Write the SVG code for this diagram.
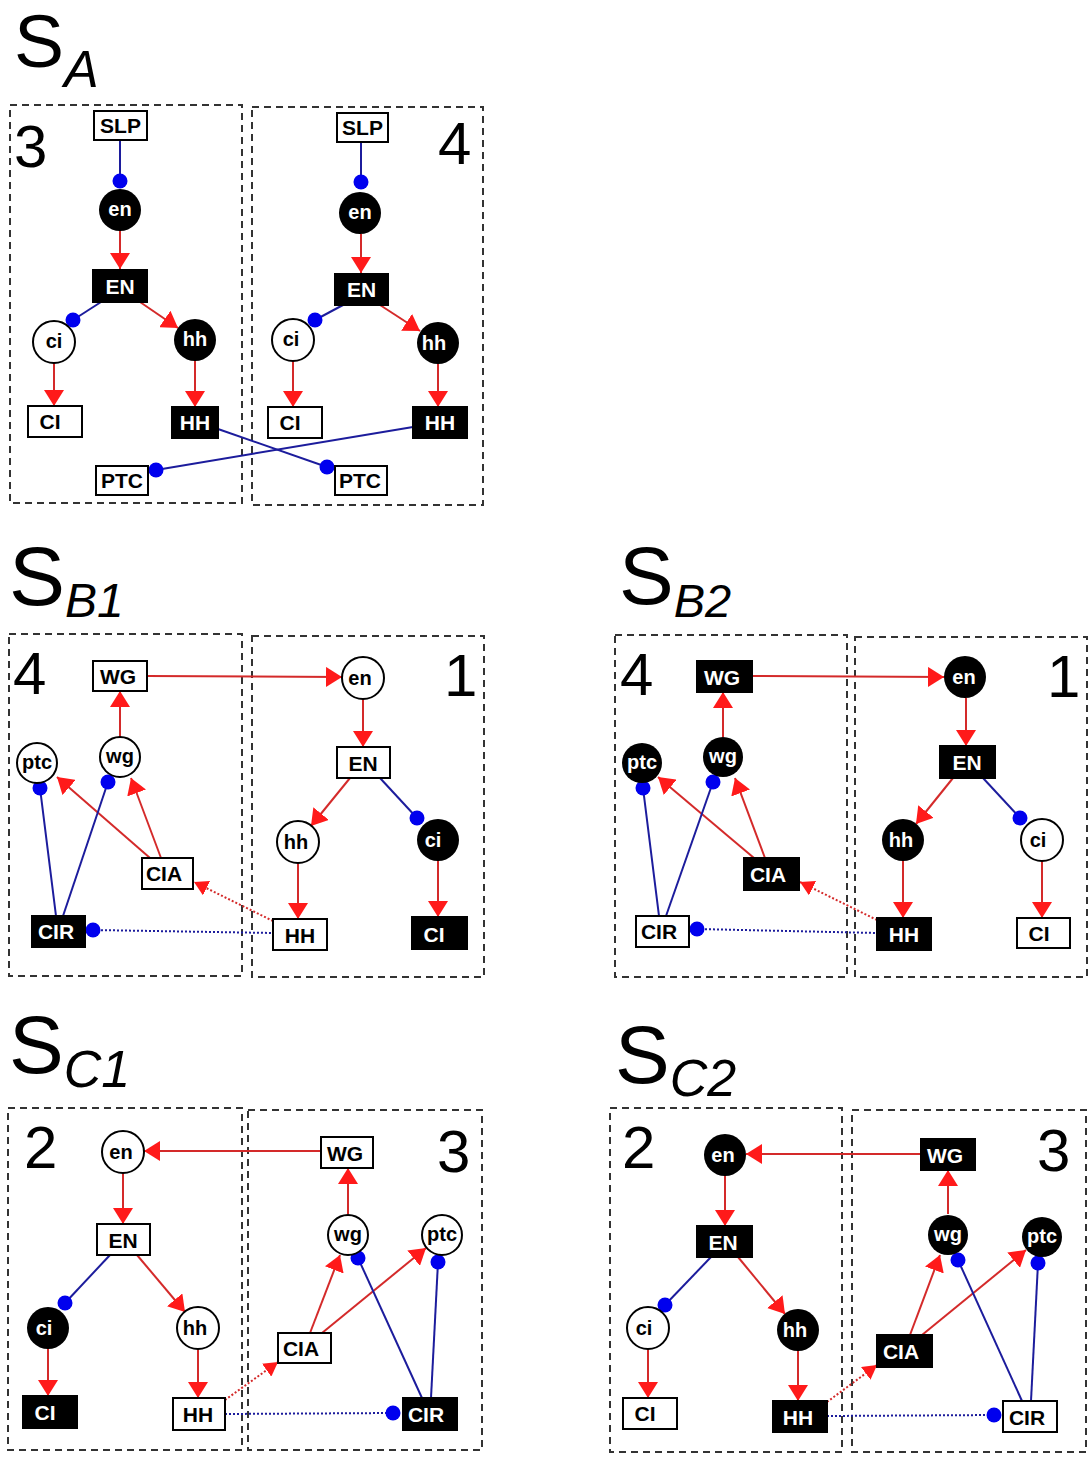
<svg xmlns="http://www.w3.org/2000/svg" width="1091" height="1458" viewBox="0 0 1091 1458">
<defs>
<marker id="ah" markerUnits="userSpaceOnUse" markerWidth="18" markerHeight="20" refX="16" refY="10" orient="auto">
<path d="M0,0 L16,10 L0,20 z" fill="#ff1a1a"/>
</marker>
<marker id="ahs" markerUnits="userSpaceOnUse" markerWidth="16" markerHeight="16" refX="14" refY="8" orient="auto">
<path d="M0,0 L14,8 L0,16 z" fill="#ff1a1a"/>
</marker>
</defs>
<style>
.frame{fill:none;stroke:#333;stroke-width:2;stroke-dasharray:7 5}
.bw{fill:#fff;stroke:#000;stroke-width:2}
.bb{fill:#000;stroke:#000;stroke-width:2}
.cw{fill:#fff;stroke:#000;stroke-width:2}
.cb{fill:#000}
.t{font-family:"Liberation Sans",Arial,sans-serif;font-weight:bold;font-size:21px;text-anchor:middle;fill:#000}
.c{font-size:20px}
.w{fill:#fff}
.num{font-family:"Liberation Sans",Arial,sans-serif;font-size:60px;fill:#000}
.ttl{font-family:"Liberation Sans",Arial,sans-serif;fill:#000}
.act{stroke:#d42a2a;stroke-width:2;fill:none;marker-end:url(#ah)}
.actd{stroke:#d42a2a;stroke-width:2;fill:none;stroke-dasharray:2 2;marker-end:url(#ahs)}
.inh{stroke:#1c1c9c;stroke-width:2;fill:none}
.inhd{stroke:#1c1c9c;stroke-width:2;fill:none;stroke-dasharray:2 2}
.dot{fill:#0000ee}
</style>
<rect width="1091" height="1458" fill="#fff"/>

<!-- titles -->
<g id="titles">
<text class="ttl" x="14" y="67" font-size="75">S<tspan font-size="52" font-style="italic" dy="20">A</tspan></text>
<text class="ttl" x="9" y="605" font-size="84">S<tspan font-size="48" font-style="italic" dy="12">B1</tspan></text>
<text class="ttl" x="619" y="604" font-size="82">S<tspan font-size="47" font-style="italic" dy="13">B2</tspan></text>
<text class="ttl" x="9" y="1073" font-size="82">S<tspan font-size="52" font-style="italic" dy="14">C1</tspan></text>
<text class="ttl" x="615" y="1083" font-size="82">S<tspan font-size="52" font-style="italic" dy="13">C2</tspan></text>
</g>

<!-- frames -->
<g id="frames">
<rect class="frame" x="10" y="105" width="232" height="398"/>
<rect class="frame" x="252" y="107" width="231" height="398"/>
<rect class="frame" x="9" y="634" width="233" height="342"/>
<rect class="frame" x="252" y="636" width="232" height="341"/>
<rect class="frame" x="615" y="635" width="232" height="342"/>
<rect class="frame" x="855" y="637" width="232" height="340"/>
<rect class="frame" x="8" y="1108" width="234" height="342"/>
<rect class="frame" x="248" y="1110" width="234" height="340"/>
<rect class="frame" x="610" y="1108" width="232" height="344"/>
<rect class="frame" x="852" y="1110" width="234" height="342"/>
</g>

<!-- panel numbers -->
<g id="numbers">
<text class="num" x="14" y="167">3</text>
<text class="num" x="438" y="164">4</text>
<text class="num" x="13" y="694">4</text>
<text class="num" x="444" y="696">1</text>
<text class="num" x="620" y="695">4</text>
<text class="num" x="1047" y="697">1</text>
<text class="num" x="24" y="1168">2</text>
<text class="num" x="437" y="1172">3</text>
<text class="num" x="622" y="1168">2</text>
<text class="num" x="1037" y="1171">3</text>
</g>

<!-- connectors -->
<g id="connectors">
<!-- SA 3 -->
<line class="inh" x1="120" y1="140" x2="120" y2="181"/>
<circle class="dot" cx="120" cy="181" r="7.5"/>
<line class="act" x1="120" y1="231" x2="120" y2="269"/>
<line class="inh" x1="101" y1="302" x2="73" y2="320"/>
<circle class="dot" cx="73" cy="320" r="7.5"/>
<line class="act" x1="140" y1="302" x2="178" y2="328"/>
<line class="act" x1="54" y1="363" x2="54" y2="406"/>
<line class="act" x1="195" y1="361" x2="195" y2="407"/>
<line class="inh" x1="413" y1="427" x2="156" y2="470"/>
<circle class="dot" cx="156" cy="470" r="7.5"/>
<line class="inh" x1="218" y1="429" x2="327" y2="467"/>
<circle class="dot" cx="327" cy="467" r="7.5"/>
<!-- SA 4 -->
<line class="inh" x1="361" y1="142" x2="361" y2="182"/>
<circle class="dot" cx="361" cy="182" r="7.5"/>
<line class="act" x1="361" y1="234" x2="361" y2="273"/>
<line class="inh" x1="343" y1="305" x2="315" y2="320"/>
<circle class="dot" cx="315" cy="320" r="7.5"/>
<line class="act" x1="380" y1="305" x2="420" y2="331"/>
<line class="act" x1="293" y1="361" x2="293" y2="407"/>
<line class="act" x1="438" y1="364" x2="438" y2="407"/>
<!-- SB1 -->
<line class="act" x1="120" y1="737" x2="120" y2="691"/>
<line class="act" x1="150" y1="858" x2="57" y2="777"/>
<line class="act" x1="161" y1="858" x2="131" y2="778"/>
<line class="inh" x1="56" y1="916" x2="40" y2="788"/>
<circle class="dot" cx="40" cy="788" r="7.5"/>
<line class="inh" x1="63" y1="916" x2="108" y2="782"/>
<circle class="dot" cx="108" cy="782" r="7.5"/>
<line class="inhd" x1="93" y1="930" x2="273" y2="933"/>
<circle class="dot" cx="93" cy="930" r="7.5"/>
<line class="actd" x1="273" y1="921" x2="194" y2="882"/>
<line class="act" x1="147" y1="676" x2="342" y2="677"/>
<line class="act" x1="363" y1="699" x2="363" y2="747"/>
<line class="act" x1="350" y1="778" x2="311" y2="826"/>
<line class="inh" x1="380" y1="778" x2="417" y2="818"/>
<circle class="dot" cx="417" cy="818" r="7.5"/>
<line class="act" x1="298" y1="863" x2="298" y2="919"/>
<line class="act" x1="438" y1="861" x2="438" y2="917"/>
<!-- SB2 -->
<line class="act" x1="723" y1="737" x2="723" y2="692"/>
<line class="act" x1="754" y1="858" x2="658" y2="777"/>
<line class="act" x1="765" y1="858" x2="735" y2="778"/>
<line class="inh" x1="659" y1="916" x2="643" y2="788"/>
<circle class="dot" cx="643" cy="788" r="7.5"/>
<line class="inh" x1="666" y1="916" x2="713" y2="782"/>
<circle class="dot" cx="713" cy="782" r="7.5"/>
<line class="inhd" x1="697" y1="929" x2="877" y2="933"/>
<circle class="dot" cx="697" cy="929" r="7.5"/>
<line class="actd" x1="877" y1="920" x2="800" y2="882"/>
<line class="act" x1="752" y1="676" x2="944" y2="677"/>
<line class="act" x1="966" y1="698" x2="966" y2="746"/>
<line class="act" x1="953" y1="778" x2="916" y2="824"/>
<line class="inh" x1="983" y1="778" x2="1020" y2="818"/>
<circle class="dot" cx="1020" cy="818" r="7.5"/>
<line class="act" x1="903" y1="861" x2="903" y2="918"/>
<line class="act" x1="1042" y1="861" x2="1042" y2="918"/>
<!-- SC1 -->
<line class="act" x1="321" y1="1151" x2="144" y2="1151"/>
<line class="act" x1="123" y1="1173" x2="123" y2="1224"/>
<line class="inh" x1="110" y1="1255" x2="65" y2="1303"/>
<circle class="dot" cx="65" cy="1303" r="7.5"/>
<line class="act" x1="137" y1="1255" x2="185" y2="1312"/>
<line class="act" x1="48" y1="1349" x2="48" y2="1396"/>
<line class="act" x1="198" y1="1349" x2="198" y2="1398"/>
<line class="act" x1="348" y1="1214" x2="348" y2="1168"/>
<line class="act" x1="310" y1="1333" x2="340" y2="1255"/>
<line class="act" x1="322" y1="1333" x2="426" y2="1248"/>
<line class="inh" x1="422" y1="1398" x2="358" y2="1258"/>
<circle class="dot" cx="358" cy="1258" r="7.5"/>
<line class="inh" x1="431" y1="1398" x2="438" y2="1262"/>
<circle class="dot" cx="438" cy="1262" r="7.5"/>
<line class="inhd" x1="225" y1="1414" x2="393" y2="1413"/>
<circle class="dot" cx="393" cy="1413" r="7.5"/>
<line class="actd" x1="225" y1="1400" x2="278" y2="1362"/>
<!-- SC2 -->
<line class="act" x1="921" y1="1154" x2="746" y2="1154"/>
<line class="act" x1="725" y1="1176" x2="725" y2="1226"/>
<line class="inh" x1="711" y1="1257" x2="665" y2="1305"/>
<circle class="dot" cx="665" cy="1305" r="7.5"/>
<line class="act" x1="738" y1="1257" x2="785" y2="1314"/>
<line class="act" x1="648" y1="1349" x2="648" y2="1398"/>
<line class="act" x1="798" y1="1351" x2="798" y2="1401"/>
<line class="act" x1="948" y1="1214" x2="948" y2="1170"/>
<line class="act" x1="910" y1="1335" x2="940" y2="1255"/>
<line class="act" x1="922" y1="1335" x2="1026" y2="1250"/>
<line class="inh" x1="1022" y1="1401" x2="958" y2="1260"/>
<circle class="dot" cx="958" cy="1260" r="7.5"/>
<line class="inh" x1="1031" y1="1401" x2="1038" y2="1263"/>
<circle class="dot" cx="1038" cy="1263" r="7.5"/>
<line class="inhd" x1="827" y1="1416" x2="994" y2="1415"/>
<circle class="dot" cx="994" cy="1415" r="7.5"/>
<line class="actd" x1="827" y1="1402" x2="877" y2="1365"/>
</g>

<!-- SA panel 3 nodes -->
<g id="sa3-SLP"><rect class="bw" x="94" y="111" width="53" height="29"/><text class="t" x="120.5" y="133">SLP</text></g>
<g id="sa3-en"><circle class="cb" cx="120" cy="210" r="21"/><text class="t c w" x="120" y="216">en</text></g>
<g id="sa3-EN"><rect class="bb" x="93" y="270" width="54" height="32"/><text class="t w" x="120" y="294">EN</text></g>
<g id="sa3-ci"><circle class="cw" cx="54" cy="342" r="21"/><text class="t c" x="54" y="348">ci</text></g>
<g id="sa3-hh"><circle class="cb" cx="195" cy="340" r="21"/><text class="t c w" x="195" y="346">hh</text></g>
<g id="sa3-CI"><rect class="bw" x="28" y="406" width="54" height="31"/><text class="t" x="50" y="429">CI</text></g>
<g id="sa3-HH"><rect class="bb" x="172" y="407" width="46" height="31"/><text class="t w" x="195" y="430">HH</text></g>
<g id="sa3-PTC"><rect class="bw" x="96" y="466" width="52" height="29"/><text class="t" x="122" y="488">PTC</text></g>

<!-- SA panel 4 nodes -->
<g id="sa4-SLP"><rect class="bw" x="337" y="113" width="51" height="29"/><text class="t" x="362.5" y="135">SLP</text></g>
<g id="sa4-en"><circle class="cb" cx="360" cy="213" r="21"/><text class="t c w" x="360" y="219">en</text></g>
<g id="sa4-EN"><rect class="bb" x="335" y="274" width="53" height="31"/><text class="t w" x="361.5" y="297">EN</text></g>
<g id="sa4-ci"><circle class="cw" cx="293" cy="340" r="21"/><text class="t c" x="291" y="346">ci</text></g>
<g id="sa4-hh"><circle class="cb" cx="438" cy="343" r="21"/><text class="t c w" x="434" y="350">hh</text></g>
<g id="sa4-CI"><rect class="bw" x="268" y="407" width="54" height="31"/><text class="t" x="290" y="430">CI</text></g>
<g id="sa4-HH"><rect class="bb" x="413" y="407" width="54" height="31"/><text class="t w" x="440" y="430">HH</text></g>
<g id="sa4-PTC"><rect class="bw" x="335" y="466" width="52" height="29"/><text class="t" x="360" y="488">PTC</text></g>

<!-- SB1 nodes -->
<g id="sb1-WG"><rect class="bw" x="93" y="661" width="54" height="30"/><text class="t" x="118" y="684">WG</text></g>
<g id="sb1-wg"><circle class="cw" cx="120" cy="757" r="20"/><text class="t c" x="120" y="763">wg</text></g>
<g id="sb1-ptc"><circle class="cw" cx="37" cy="763" r="20"/><text class="t c" x="37" y="769">ptc</text></g>
<g id="sb1-CIA"><rect class="bw" x="142" y="858" width="51" height="31"/><text class="t" x="164" y="881">CIA</text></g>
<g id="sb1-CIR"><rect class="bb" x="32" y="916" width="53" height="31"/><text class="t w" x="56" y="939">CIR</text></g>
<g id="sb1-en"><circle class="cw" cx="363" cy="678" r="21"/><text class="t c" x="360" y="685">en</text></g>
<g id="sb1-EN"><rect class="bw" x="337" y="747" width="53" height="31"/><text class="t" x="363" y="771">EN</text></g>
<g id="sb1-hh"><circle class="cw" cx="298" cy="842" r="21"/><text class="t c" x="296" y="849">hh</text></g>
<g id="sb1-ci"><circle class="cb" cx="438" cy="840" r="21"/><text class="t c w" x="433" y="847">ci</text></g>
<g id="sb1-HH"><rect class="bw" x="273" y="919" width="54" height="31"/><text class="t" x="300" y="943">HH</text></g>
<g id="sb1-CI"><rect class="bb" x="412" y="917" width="55" height="32"/><text class="t w" x="434" y="942">CI</text></g>

<!-- SB2 nodes -->
<g id="sb2-WG"><rect class="bb" x="697" y="661" width="55" height="31"/><text class="t w" x="722" y="685">WG</text></g>
<g id="sb2-wg"><circle class="cb" cx="723" cy="757" r="20"/><text class="t c w" x="723" y="763">wg</text></g>
<g id="sb2-ptc"><circle class="cb" cx="642" cy="763" r="20"/><text class="t c w" x="642" y="769">ptc</text></g>
<g id="sb2-CIA"><rect class="bb" x="744" y="858" width="55" height="32"/><text class="t w" x="768" y="882">CIA</text></g>
<g id="sb2-CIR"><rect class="bw" x="636" y="916" width="53" height="31"/><text class="t" x="659" y="939">CIR</text></g>
<g id="sb2-en"><circle class="cb" cx="965" cy="677" r="21"/><text class="t c w" x="964" y="684">en</text></g>
<g id="sb2-EN"><rect class="bb" x="940" y="746" width="55" height="32"/><text class="t w" x="967" y="770">EN</text></g>
<g id="sb2-hh"><circle class="cb" cx="903" cy="840" r="21"/><text class="t c w" x="901" y="847">hh</text></g>
<g id="sb2-ci"><circle class="cw" cx="1042" cy="840" r="21"/><text class="t c" x="1038" y="847">ci</text></g>
<g id="sb2-HH"><rect class="bb" x="877" y="918" width="54" height="32"/><text class="t w" x="904" y="942">HH</text></g>
<g id="sb2-CI"><rect class="bw" x="1017" y="918" width="53" height="30"/><text class="t" x="1039" y="941">CI</text></g>

<!-- SC1 nodes -->
<g id="sc1-en"><circle class="cw" cx="123" cy="1152" r="21"/><text class="t c" x="121" y="1159">en</text></g>
<g id="sc1-EN"><rect class="bw" x="97" y="1224" width="53" height="31"/><text class="t" x="123" y="1248">EN</text></g>
<g id="sc1-ci"><circle class="cb" cx="48" cy="1328" r="21"/><text class="t c w" x="44" y="1335">ci</text></g>
<g id="sc1-hh"><circle class="cw" cx="198" cy="1328" r="21"/><text class="t c" x="195" y="1335">hh</text></g>
<g id="sc1-CI"><rect class="bb" x="23" y="1396" width="54" height="32"/><text class="t w" x="45" y="1420">CI</text></g>
<g id="sc1-HH"><rect class="bw" x="173" y="1398" width="52" height="32"/><text class="t" x="198" y="1422">HH</text></g>
<g id="sc1-WG"><rect class="bw" x="321" y="1137" width="52" height="31"/><text class="t" x="345" y="1161">WG</text></g>
<g id="sc1-wg"><circle class="cw" cx="348" cy="1235" r="20"/><text class="t c" x="348" y="1241">wg</text></g>
<g id="sc1-ptc"><circle class="cw" cx="442" cy="1235" r="20"/><text class="t c" x="442" y="1241">ptc</text></g>
<g id="sc1-CIA"><rect class="bw" x="278" y="1333" width="53" height="30"/><text class="t" x="301" y="1356">CIA</text></g>
<g id="sc1-CIR"><rect class="bb" x="403" y="1398" width="54" height="32"/><text class="t w" x="426" y="1422">CIR</text></g>

<!-- SC2 nodes -->
<g id="sc2-en"><circle class="cb" cx="725" cy="1155" r="21"/><text class="t c w" x="723" y="1162">en</text></g>
<g id="sc2-EN"><rect class="bb" x="697" y="1226" width="55" height="31"/><text class="t w" x="723" y="1250">EN</text></g>
<g id="sc2-ci"><circle class="cw" cx="648" cy="1328" r="21"/><text class="t c" x="644" y="1335">ci</text></g>
<g id="sc2-hh"><circle class="cb" cx="798" cy="1330" r="21"/><text class="t c w" x="795" y="1337">hh</text></g>
<g id="sc2-CI"><rect class="bw" x="623" y="1398" width="54" height="31"/><text class="t" x="645" y="1421">CI</text></g>
<g id="sc2-HH"><rect class="bb" x="773" y="1401" width="54" height="31"/><text class="t w" x="798" y="1425">HH</text></g>
<g id="sc2-WG"><rect class="bb" x="921" y="1139" width="54" height="31"/><text class="t w" x="945" y="1163">WG</text></g>
<g id="sc2-wg"><circle class="cb" cx="948" cy="1235" r="20"/><text class="t c w" x="948" y="1241">wg</text></g>
<g id="sc2-ptc"><circle class="cb" cx="1042" cy="1237" r="20"/><text class="t c w" x="1042" y="1243">ptc</text></g>
<g id="sc2-CIA"><rect class="bb" x="877" y="1335" width="55" height="32"/><text class="t w" x="901" y="1359">CIA</text></g>
<g id="sc2-CIR"><rect class="bw" x="1003" y="1401" width="54" height="31"/><text class="t" x="1027" y="1425">CIR</text></g>
</svg>
